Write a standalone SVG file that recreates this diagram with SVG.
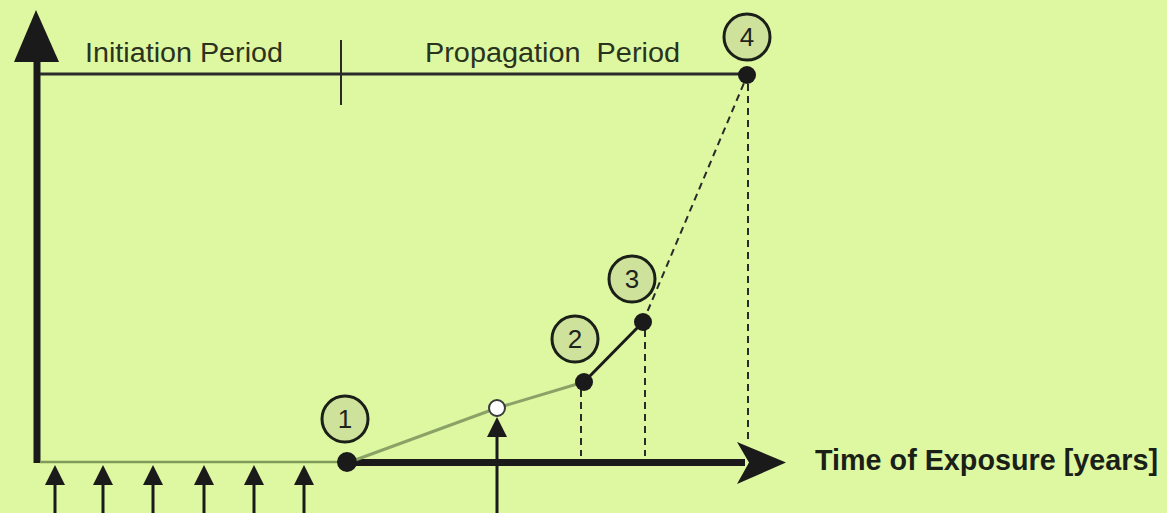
<svg xmlns="http://www.w3.org/2000/svg" width="1167" height="513" viewBox="0 0 1167 513">
<style>
.lbl{font-family:"Liberation Sans",Arial,sans-serif;font-size:27px;fill:#2a3320}
.num{font-family:"Liberation Sans",Arial,sans-serif;font-size:26px;fill:#1e241a;text-anchor:middle}
.badge{fill:#cfe29c;stroke:#1a1f18;stroke-width:3}
.dot{fill:#1a1a1a}
.dash{stroke:#2a2a2a;stroke-width:2;stroke-dasharray:7,5;fill:none}
.ar{fill:#1a1a1a}
</style>
<rect width="1167" height="513" fill="#def7a1"/>
<g id="connectors">
  <line x1="37" y1="463" x2="37" y2="50" stroke="#1a1a1a" stroke-width="7"/>
  <polygon class="ar" points="36,10 14,62 59,62"/>
  <line x1="40" y1="74" x2="747" y2="74" stroke="#2a2a2a" stroke-width="3"/>
  <line x1="341" y1="40" x2="341" y2="105" stroke="#2a2a2a" stroke-width="2"/>
  <line x1="40" y1="462" x2="347" y2="462" stroke="#7f9a5a" stroke-width="2.5"/>
  <line x1="347" y1="462.5" x2="745" y2="462.5" stroke="#1a1a1a" stroke-width="7"/>
  <polygon class="ar" points="786,462.5 737,442 749,462.5 737,484"/>
  <polyline points="347,463 497,408 584,382" fill="none" stroke="#8aa266" stroke-width="3"/>
  <line x1="584" y1="382" x2="643" y2="322" stroke="#1a1a1a" stroke-width="3"/>
  <line class="dash" x1="643" y1="322" x2="747" y2="76"/>
  <line class="dash" x1="581" y1="390" x2="581" y2="456"/>
  <line class="dash" x1="645" y1="330" x2="645" y2="456"/>
  <line class="dash" x1="748" y1="84" x2="748" y2="443"/>
  <line x1="497" y1="513" x2="497" y2="430" stroke="#1a1a1a" stroke-width="3"/>
  <polygon class="ar" points="497,417 487,437 507,437"/>
  <g stroke="#1a1a1a" stroke-width="3">
    <line x1="55" y1="513" x2="55" y2="480"/>
    <line x1="103" y1="513" x2="103" y2="480"/>
    <line x1="153" y1="513" x2="153" y2="480"/>
    <line x1="204" y1="513" x2="204" y2="480"/>
    <line x1="254" y1="513" x2="254" y2="480"/>
    <line x1="304" y1="513" x2="304" y2="480"/>
  </g>
  <polygon class="ar" points="55,465 45,485 65,485"/>
  <polygon class="ar" points="103,465 93,485 113,485"/>
  <polygon class="ar" points="153,465 143,485 163,485"/>
  <polygon class="ar" points="204,465 194,485 214,485"/>
  <polygon class="ar" points="254,465 244,485 264,485"/>
  <polygon class="ar" points="304,465 294,485 314,485"/>
</g>
<g id="labels">
  <text class="lbl" x="85" y="62" textLength="198" lengthAdjust="spacingAndGlyphs">Initiation Period</text>
  <text class="lbl" x="425" y="62" textLength="255" lengthAdjust="spacingAndGlyphs">Propagation&#160; Period</text>
  <text x="815" y="470" style="font-family:'Liberation Sans',Arial,sans-serif;font-size:29px;font-weight:bold;fill:#1a1f18" textLength="343" lengthAdjust="spacingAndGlyphs">Time of Exposure [years]</text>
</g>
<g id="point1">
  <circle class="dot" cx="347" cy="462" r="10"/>
  <circle class="badge" cx="345" cy="419" r="23"/>
  <text class="num" x="345" y="428">1</text>
</g>
<g id="point-open">
  <circle cx="497" cy="408" r="8" fill="#ffffff" stroke="#3a3a3a" stroke-width="2"/>
</g>
<g id="point2">
  <circle class="dot" cx="584" cy="382" r="9"/>
  <circle class="badge" cx="575" cy="339" r="23"/>
  <text class="num" x="575" y="348">2</text>
</g>
<g id="point3">
  <circle class="dot" cx="643" cy="322" r="9"/>
  <circle class="badge" cx="632" cy="279" r="23"/>
  <text class="num" x="632" y="288">3</text>
</g>
<g id="point4">
  <circle class="dot" cx="747" cy="75" r="9"/>
  <circle class="badge" cx="747" cy="37" r="23"/>
  <text class="num" x="747" y="46">4</text>
</g>
</svg>
